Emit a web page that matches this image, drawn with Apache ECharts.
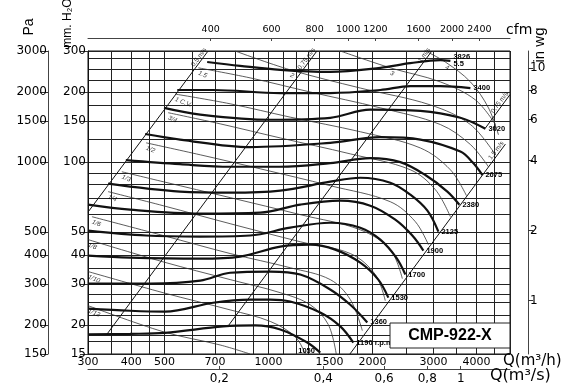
<!DOCTYPE html>
<html><head><meta charset="utf-8">
<script src="https://cdn.jsdelivr.net/npm/echarts@6/dist/echarts.min.js"></script>
<style>html,body{margin:0;padding:0;background:#fff}#c{width:566px;height:389px}</style>
</head><body><div id="c"></div>
<script>
// ---- axis ranges and tick labels ----
const qRange = [300, 5000];          // Q (m3/h)
const pRange = [15, 300];            // mm H2O
const qLabels = [300, 400, 500, 700, 1000, 1500, 2000, 3000, 4000];
const qGrid = [300, 350, 400, 450, 500, 600, 700, 800, 900, 1000, 1100, 1200, 1300, 1400, 1600, 1800, 2000, 2500, 3000, 3500, 4000, 4500, 5000];
const qsLabels = [0.2, 0.4, 0.6, 0.8, 1];
const cfmLabels = [400, 600, 800, 1000, 1200, 1600, 2000, 2400];
const pLabels = [15, 20, 30, 40, 50, 100, 150, 200, 300];
const pGrid = [15, 17, 18, 20, 22, 25, 27, 30, 35, 40, 45, 50, 60, 70, 80, 90, 100, 125, 150, 175, 200, 225, 250, 280, 300];
const paLabels = [150, 200, 300, 400, 500, 1000, 1500, 2000, 3000];
const inwgLabels = [1, 2, 4, 6, 8, 10];
const CFM_PER_M3H = 0.588578;
const MM_PER_INWG = 25.4;

// ---- fan curves [Q m3/h, P mmH2O] ----
const rpm3826 = [[664,269],[827,259],[1081,249],[1508,244],[2106,254],[2573,266],[3143,274],[3360,272]];
const rpm3400 = [[544,204],[691,204],[1081,198],[1508,198],[2106,204],[2573,212],[3143,212],[3840,208]];
const rpm3020 = [[498,171],[634,160],[1011,152],[1508,155],[1970,168],[2751,166],[3592,155],[4245,139]];
const rpm2675 = [[439,132],[554,125],[884,116],[1508,121],[2106,128],[2751,125],[3592,111],[3890,100],[4161,88]];
const rpm2380 = [[386,102],[554,98],[774,95.5],[1081,95.5],[1508,99],[1970,104],[2407,100],[2844,88],[3293,74.7],[3568,65.6]];
const rpm2125 = [[343,80.8],[554,74.7],[774,73.9],[1081,75.4],[1508,82.4],[1843,85.7],[2251,81.6],[2573,72.5],[2883,61.9],[3102,50.3]];
const rpm1900 = [[300,65.7],[397,62.5],[634,60.1],[946,60.7],[1235,65.7],[1613,68.3],[1970,65],[2327,56.6],[2607,48.4],[2807,41.7]];
const rpm1700 = [[300,50.8],[442,48.4],[634,47.9],[884,48.4],[1155,52.3],[1508,54.9],[1843,52.3],[2106,46.5],[2343,38.9],[2489,32.9]];
const rpm1530 = [[300,39.7],[397,38.9],[634,38.5],[827,39.3],[1081,43.4],[1320,44.2],[1559,42.1],[1843,37.0],[2078,31.3],[2222,26.2]];
const rpm1360 = [[300,30.1],[454,30.1],[634,31.0],[774,33.5],[1011,33.9],[1235,32.9],[1508,28.4],[1724,24.4],[1931,20.5]];
const rpm1190 = [[300,23.5],[397,23.0],[501,22.8],[691,24.9],[884,25.7],[1011,25.7],[1155,25.2],[1411,22.6],[1613,19.7],[1759,16.8]];
const rpm1050 = [[300,18.2],[397,18.3],[501,18.5],[739,19.7],[914,19.9],[1081,19.1],[1294,16.8],[1411,15.2]];

// ---- motor power lines (HP) ----
const hp1_12 = [[300,24.2],[495,18.7],[724,16.4],[884,15]];
const hp1_10 = [[300,33.9],[495,27.5],[774,23.2],[1011,20.7],[1194,17.8],[1277,15]];
const hp1_8  = [[300,46.5],[495,37.3],[774,31.3],[1081,27.5],[1320,24.4],[1488,20.1],[1570,15]];
const hp1_6  = [[308,58.3],[495,48.4],[774,40.5],[1155,35.2],[1508,31.3],[1724,25.7],[1868,18.9]];
const hp1_4  = [[343,74.7],[495,65],[774,54.4],[1235,45.5],[1724,40.5],[2037,32.9],[2177,25.4]];
const hp1_3  = [[376,90.9],[495,82.4],[774,70.4],[1235,59.5],[1843,51.2],[2251,42.1],[2439,31.6]];
const hp1_2  = [[442,121],[634,107.5],[946,93.6],[1508,79.2],[2251,67.6],[2660,55.5],[2902,44.2]];
const hp3_4  = [[512,163],[724,146],[1081,127],[1724,108.5],[2573,92.7],[3041,76.1],[3360,58.3]];
const hp1    = [[536,196],[774,178],[1155,156],[1843,135],[2751,115],[3360,92.7],[3739,71.8]];
const hp1_5  = [[626,254],[884,230],[1320,200],[2106,171],[3143,145],[3840,119],[4331,95.5]];
const hp2    = [[800,300],[1155,249],[1843,208],[2941,176],[3840,145],[4538,107.5]];
const hp3    = [[1613,300],[2251,254],[3143,221],[3970,185],[4538,145]];
const hp4    = [[2844,300],[3250,269],[3840,221],[4331,171],[4630,131]];

// ---- system (quadratic) lines ----
const sysA = [[300,61],[668,300]];
const sysB = [[339,18.1],[1380,300]];
const sysC = [[760,19.6],[2970,300]];
const sysD = [[1720,15],[4850,119.5]];
const sysE = [[4243,140],[5000,195]];

const fanCurves = [
  {name:'1050', data:rpm1050}, {name:'1190 r.p.m.', data:rpm1190}, {name:'1360', data:rpm1360},
  {name:'1530', data:rpm1530}, {name:'1700', data:rpm1700}, {name:'1900', data:rpm1900},
  {name:'2125', data:rpm2125}, {name:'2380', data:rpm2380}, {name:'2675', data:rpm2675},
  {name:'3020', data:rpm3020}, {name:'3400', data:rpm3400}, {name:'3826\n5.5', data:rpm3826}
];
const powerLines = [
  {name:'1/12', data:hp1_12, at:0}, {name:'1/10', data:hp1_10, at:0}, {name:'1/8', data:hp1_8, at:0},
  {name:'1/6', data:hp1_6, at:0}, {name:'1/4', data:hp1_4, at:0}, {name:'1/3', data:hp1_3, at:0},
  {name:'1/2', data:hp1_2, at:0}, {name:'3/4', data:hp3_4, at:0}, {name:'1 C.V.', data:hp1, at:0},
  {name:'1.5', data:hp1_5, at:0}, {name:'2', data:hp2, at:1}, {name:'3', data:hp3, at:1}, {name:'4', data:hp4, at:1}
];
const systemLines = [
  {name:'0,5 m/s', data:sysA}, {name:'0,75 m/s', data:sysB}, {name:'1 m/s', data:sysC},
  {name:'1,5 m/s', data:sysD}, {name:'0,75 m/s', data:sysE}
];

// ---- styles ----
const FONT = 'DejaVu Sans';
const INK = '#111';
const endOffsets = {'1050':[-25,-2]};
const plain = v => String(+(+v).toPrecision(4));

const series = [];
powerLines.forEach(p => series.push({
  type:'line', data:p.data, smooth:0.35, showSymbol:false, silent:true, z:2,
  lineStyle:{color:'#333', width:0.8}
}));
systemLines.forEach(s => series.push({
  type:'line', data:s.data, showSymbol:false, silent:true, z:3,
  lineStyle:{color:INK, width:1}
}));
fanCurves.forEach(c => series.push({
  type:'line', data:c.data, smooth:0.35, showSymbol:false, silent:true, z:4,
  lineStyle:{color:INK, width:2.2},
  endLabel:{show:true, formatter:c.name, fontFamily:'Liberation Sans', fontSize:7.5, fontWeight:'bold',
    color:'#000', distance:3, lineHeight:7, offset:endOffsets[c.name] || [0,0]}
}));
series.push({
  type:'scatter', symbolSize:1, itemStyle:{color:'rgba(0,0,0,0)'}, silent:true, z:6,
  data: powerLines.map(p => ({value:p.data[p.at], name:p.name})),
  label:{show:true, position:'inside', formatter:'{b}', align:'left', verticalAlign:'top',
    rotate:-22, offset:[2,1], fontFamily:'Liberation Sans', fontSize:6.5, fontStyle:'italic', color:'#000'}
});
series.push({
  type:'scatter', symbolSize:1, itemStyle:{color:'rgba(0,0,0,0)'}, silent:true, z:6,
  data: systemLines.map(s => ({value:s.data[s.data.length-1], name:s.name})),
  label:{show:true, position:'inside', formatter:'{b}', align:'right', verticalAlign:'bottom',
    rotate:53, offset:[0,0], fontFamily:'Liberation Sans', fontSize:6.5, color:'#000'}
});

const tickLabel = {fontFamily:FONT, color:'#000'};
const option = {
  animation:false,
  grid:{left:88, right:56, top:51, bottom:35, show:true, borderColor:INK, borderWidth:1, backgroundColor:'#fff'},
  xAxis:[
    {type:'log', min:qRange[0], max:qRange[1], position:'bottom',
     axisLine:{show:false, onZero:false}, axisTick:{show:false, customValues:qGrid},
     axisLabel:Object.assign({customValues:qLabels, fontSize:11, margin:3, formatter:plain}, tickLabel),
     splitLine:{show:true, lineStyle:{color:'#222', width:1}}},
    {type:'log', min:qRange[0]/3600, max:qRange[1]/3600, position:'bottom', offset:15,
     axisLine:{show:true, onZero:false, lineStyle:{color:'#444', width:1}},
     axisTick:{show:true, inside:true, length:3, customValues:qsLabels, lineStyle:{color:'#444'}},
     axisLabel:Object.assign({customValues:qsLabels, fontSize:12, margin:4,
       formatter:v => plain(v).replace('.', ',')}, tickLabel),
     splitLine:{show:false}},
    {type:'log', min:qRange[0]*CFM_PER_M3H, max:qRange[1]*CFM_PER_M3H, position:'top', offset:13,
     axisLine:{show:true, onZero:false, lineStyle:{color:'#444', width:1}},
     axisTick:{show:true, inside:true, length:3, customValues:cfmLabels, lineStyle:{color:'#444'}},
     axisLabel:Object.assign({customValues:cfmLabels, fontSize:9.5, margin:3, formatter:plain}, tickLabel),
     splitLine:{show:false}}
  ],
  yAxis:[
    {type:'log', min:pRange[0], max:pRange[1], position:'left',
     axisLine:{show:true, onZero:false, lineStyle:{color:INK}},
     axisTick:{show:true, length:8, customValues:pLabels, lineStyle:{color:'#333'}},
     axisLabel:Object.assign({customValues:pLabels, fontSize:12, margin:2, formatter:plain}, tickLabel),
     splitLine:{show:false}},
    {type:'log', min:pRange[0]*10, max:pRange[1]*10, position:'left', offset:40,
     axisLine:{show:true, onZero:false, lineStyle:{color:'#444'}},
     axisTick:{show:true, length:8, customValues:paLabels, lineStyle:{color:'#333'}},
     axisLabel:Object.assign({customValues:paLabels, fontSize:12, margin:1, formatter:plain}, tickLabel),
     splitLine:{show:false}},
    {type:'log', min:pRange[0]/MM_PER_INWG, max:pRange[1]/MM_PER_INWG, position:'right', offset:18,
     axisLine:{show:true, onZero:false, lineStyle:{color:'#444'}},
     axisTick:{show:true, length:5, customValues:inwgLabels, lineStyle:{color:'#333'}},
     axisLabel:Object.assign({customValues:inwgLabels, fontSize:12, margin:2, formatter:plain}, tickLabel),
     splitLine:{show:false}},
    {type:'log', min:pRange[0], max:pRange[1], position:'left',
     axisLine:{show:false, onZero:false}, axisTick:{show:false, customValues:pGrid},
     axisLabel:{show:false}, splitLine:{show:true, lineStyle:{color:'#222', width:1}}}
  ],
  series:series,
  graphic:[
    {type:'text', x:29, y:27, rotation:Math.PI/2, z:100,
     style:{text:'Pa', font:'14px "Liberation Sans"', fill:'#000', align:'center', verticalAlign:'middle'}},
    {type:'text', x:68, y:23, rotation:Math.PI/2, z:100,
     style:{text:'mm. H₂O', font:'12px "Liberation Sans"', fill:'#000', align:'center', verticalAlign:'middle'}},
    {type:'text', x:540, y:45, rotation:Math.PI/2, z:100,
     style:{text:'in wg', font:'15px "Liberation Sans"', fill:'#000', align:'center', verticalAlign:'middle'}},
    {type:'text', x:506, y:30, z:100,
     style:{text:'cfm', font:'14px "DejaVu Sans"', fill:'#000', align:'left', verticalAlign:'middle'}},
    {type:'text', x:503, y:361, z:100,
     style:{text:'Q(m³/h)', font:'15px "DejaVu Sans"', fill:'#000', align:'left', verticalAlign:'middle'}},
    {type:'text', x:490, y:376, z:100,
     style:{text:'Q(m³/s)', font:'16px "DejaVu Sans"', fill:'#000', align:'left', verticalAlign:'middle'}},
    {type:'rect', shape:{x:390, y:323, width:120, height:25}, z:100,
     style:{fill:'#fff', stroke:'#222', lineWidth:1}},
    {type:'text', x:450, y:336, z:101,
     style:{text:'CMP-922-X', font:'bold 16px "Liberation Sans"', fill:'#000', align:'center', verticalAlign:'middle'}}
  ]
};
const chart = echarts.init(document.getElementById('c'));
chart.setOption(option);
</script>
</body></html>
